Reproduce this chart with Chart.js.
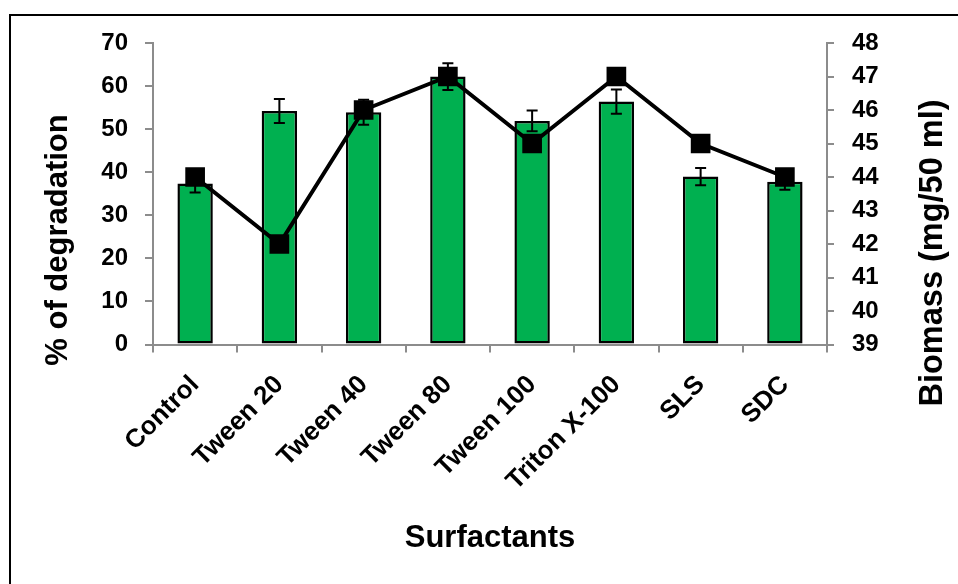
<!DOCTYPE html>
<html>
<head>
<meta charset="utf-8">
<script src="https://cdn.jsdelivr.net/npm/chart.js@4/dist/chart.umd.min.js"></script>
<style>
  body { margin: 0; background: #fff; }
  #wrap { position: relative; width: 958px; height: 584px; overflow: hidden; }
  #frame { position: absolute; left: 9px; top: 14px; width: 970px; height: 600px; border: 2px solid #000; box-sizing: border-box; pointer-events: none; }
  canvas { position: absolute; left: 0; top: 0; }
</style>
</head>
<body>
<div id="wrap">
  <canvas id="chart" width="958" height="584"></canvas>
  <div id="frame"></div>
</div>
<script>
const categories = ['Control', 'Tween 20', 'Tween 40', 'Tween 80', 'Tween 100', 'Triton X-100', 'SLS', 'SDC'];
const degradation = [37.4, 54.2, 53.9, 62.2, 51.9, 56.4, 39.0, 37.8];
const degradationErr = [2.1, 2.8, 2.9, 3.1, 2.4, 2.8, 2.0, 1.9];
const biomass = [44, 42, 46, 47, 45, 47, 45, 44];

const axisGray = '#8c8c8c';
const yTickFont = { family: 'Liberation Sans', weight: 'bold', size: 24 };
const xTickFont = { family: 'Liberation Sans', weight: 'bold', size: 26 };
const titleFont = { family: 'Liberation Sans', weight: 'bold', size: 31 };

// error bars for the bar series, drawn before the line goes on top
const errorBars = {
  id: 'errorBars',
  afterDatasetDraw(chart, args) {
    if (args.index !== 1) return;
    const ctx = chart.ctx;
    const y = chart.scales.y;
    ctx.save();
    ctx.strokeStyle = '#000';
    ctx.lineWidth = 2;
    args.meta.data.forEach((bar, i) => {
      const top = y.getPixelForValue(degradation[i] + degradationErr[i]);
      const bot = y.getPixelForValue(degradation[i] - degradationErr[i]);
      ctx.beginPath();
      ctx.moveTo(bar.x, top); ctx.lineTo(bar.x, bot);
      ctx.moveTo(bar.x - 5.5, top); ctx.lineTo(bar.x + 5.5, top);
      ctx.moveTo(bar.x - 5.5, bot); ctx.lineTo(bar.x + 5.5, bot);
      ctx.stroke();
    });
    ctx.restore();
  }
};

// vertical axis titles, both reading bottom to top
const yTitles = {
  id: 'yTitles',
  afterDraw(chart) {
    const ctx = chart.ctx;
    ctx.save();
    ctx.fillStyle = '#000';
    ctx.textAlign = 'center';
    ctx.textBaseline = 'middle';
    [['% of degradation', 58, 240, 31], ['Biomass (mg/50 ml)', 933, 253, 32.5]].forEach(([t, x, yy, size]) => {
      ctx.save();
      ctx.font = 'bold ' + size + 'px "Liberation Sans"';
      ctx.translate(x, yy);
      ctx.rotate(-Math.PI / 2);
      ctx.fillText(t, 0, 0);
      ctx.restore();
    });
    ctx.restore();
  }
};

new Chart(document.getElementById('chart'), {
  data: {
    labels: categories,
    datasets: [{
      type: 'line',
      label: 'Biomass',
      data: biomass,
      yAxisID: 'y1',
      borderColor: '#000',
      borderWidth: 4,
      pointStyle: 'rect',
      pointRadius: 12.5,
      pointBorderWidth: 2,
      pointBackgroundColor: '#000',
      pointBorderColor: '#000',
      tension: 0
    }, {
      type: 'bar',
      label: '% of degradation',
      data: degradation,
      yAxisID: 'y',
      backgroundColor: '#00b050',
      borderColor: '#000',
      borderWidth: 2.5,
      borderSkipped: false,
      barPercentage: 0.42,
      categoryPercentage: 1
    }]
  },
  options: {
    responsive: false,
    animation: false,
    layout: { padding: { top: 43, left: 0, right: 0, bottom: 0 } },
    plugins: { legend: { display: false }, tooltip: { enabled: false } },
    scales: {
      x: {
        afterFit: s => { s.height = 239.5; },
        grid: { drawOnChartArea: false, color: axisGray, lineWidth: 2, tickLength: 8 },
        border: { color: axisGray, width: 2 },
        ticks: { color: '#000', font: xTickFont, minRotation: 45, maxRotation: 45, autoSkip: false, padding: 17 },
        title: { display: true, text: 'Surfactants', color: '#000', font: titleFont, padding: { top: 0, bottom: 27 } }
      },
      y: {
        position: 'left',
        min: 0, max: 70,
        afterFit: s => { s.width = 153; },
        grid: { drawOnChartArea: false, color: axisGray, lineWidth: 2, tickLength: 8 },
        border: { color: axisGray, width: 2 },
        ticks: { stepSize: 10, color: '#000', font: yTickFont, padding: 17 }
      },
      y1: {
        position: 'right',
        min: 39, max: 48,
        afterFit: s => { s.width = 131; },
        grid: { drawOnChartArea: false, color: axisGray, lineWidth: 2, tickLength: 7 },
        border: { color: axisGray, width: 2 },
        ticks: { stepSize: 1, color: '#000', font: yTickFont, padding: 18 }
      }
    }
  },
  plugins: [errorBars, yTitles]
});
</script>
</body>
</html>
